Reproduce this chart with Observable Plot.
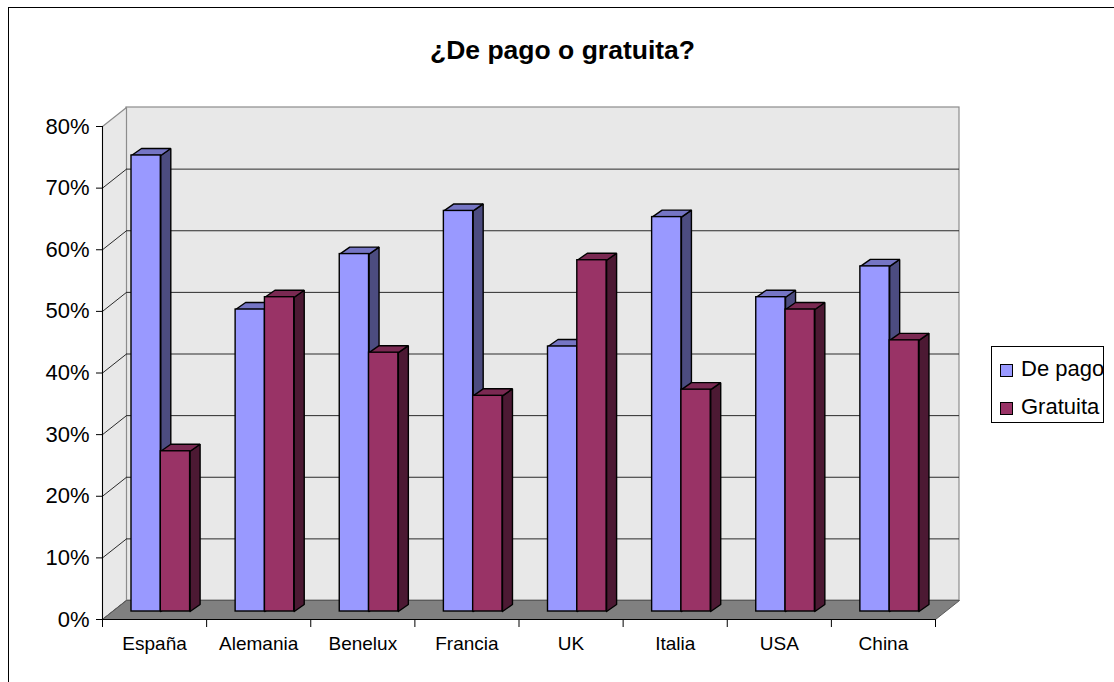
<!DOCTYPE html>
<html>
<head>
<meta charset="utf-8">
<script src="https://cdn.jsdelivr.net/npm/d3@7"></script>
<script src="https://cdn.jsdelivr.net/npm/@observablehq/plot@0.6"></script>
<style>
  html, body { margin: 0; padding: 0; background: #fff; overflow: hidden; }
  body { width: 1114px; height: 682px; position: relative; font-family: "Liberation Sans", Arial, sans-serif; }
  #frame { position: absolute; left: 8px; top: 7px; width: 1120px; height: 690px; border: 1px solid #000; box-sizing: border-box; }
  #chart { position: absolute; left: 0; top: 0; }
  #title { position: absolute; left: 0; width: 1125px; top: 37px; text-align: center; font-weight: bold; font-size: 26.5px; line-height: 26.5px; color: #000; }
  #legend { position: absolute; left: 991px; top: 346px; width: 113px; height: 77px; border: 1px solid #000; box-sizing: border-box; background: #fff; }
  .item { position: absolute; left: 8px; font-size: 22px; line-height: 22px; white-space: nowrap; color: #000; }
  .sw { display: inline-block; width: 13px; height: 13px; border: 1px solid #000; box-sizing: border-box; margin-right: 8px; vertical-align: -1px; }
</style>
</head>
<body>
<div id="frame"></div>
<div id="chart"></div>
<div id="title"></div>
<div id="legend"></div>
<script>
// ---- data ----
const title = "¿De pago o gratuita?";
const categories = ["España", "Alemania", "Benelux", "Francia", "UK", "Italia", "USA", "China"];
const series = ["De pago", "Gratuita"];
const dePago = [74, 49, 58, 65, 43, 64, 51, 56];
const gratuita = [26, 51, 42, 35, 57, 36, 49, 44];
const yTicks = [0, 10, 20, 30, 40, 50, 60, 70, 80];

// ---- styles ----
const faceColors = {
  "De pago":  {front: "#9999FF", top: "#7575C4", side: "#4C4C80"},
  "Gratuita": {front: "#993366", top: "#7A2952", side: "#4C1933"}
};

// ---- layout (pixels) ----
const W = 1114, H = 682;
const mL = 102, mR = 179, mT = 126, mB = 63;
const n = categories.length;
const kx = (W - mL - mR) / n;          // px per category
const ky = (H - mT - mB) / 80;         // px per percent
const wallDx = 24 / kx, wallDy = 19 / ky;   // wall depth in data units
const barDx = 10 / kx, barDy = 7 / ky;      // bar depth in data units
const barOff = 19 / kx, barW = 29.3 / kx;   // bar placement within category
const planeDx = 10, planeDy = -8;           // bar plane offset (px)

const bars = [];
categories.forEach((c, i) => {
  series.forEach((s, j) => {
    const v = (j === 0 ? dePago : gratuita)[i];
    const xl = i + barOff + j * barW, xr = xl + barW;
    bars.push({category: c, series: s, value: v, xl, xr, id: c + "|" + s});
  });
});

function sidePoly(b) {
  return [[b.xr, 0], [b.xr + barDx, barDy], [b.xr + barDx, b.value + barDy], [b.xr, b.value], [b.xr, 0]]
    .map(([x, y]) => ({x, y, id: b.id}));
}
function topPoly(b) {
  return [[b.xl, b.value], [b.xr, b.value], [b.xr + barDx, b.value + barDy], [b.xl + barDx, b.value + barDy], [b.xl, b.value]]
    .map(([x, y]) => ({x, y, id: b.id}));
}

const leftWall = [[0, 0], [0, 80], [wallDx, 80 + wallDy], [wallDx, wallDy], [0, 0]].map(([x, y]) => ({x, y}));
const floor = [[0, 0], [n, 0], [n + wallDx, wallDy], [wallDx, wallDy], [0, 0]].map(([x, y]) => ({x, y}));

const faceMarks = [];
for (const face of ["side", "top"]) {
  for (const s of series) {
    const data = bars.filter(b => b.series === s).flatMap(face === "side" ? sidePoly : topPoly);
    faceMarks.push(Plot.line(data, {x: "x", y: "y", z: "id", fill: faceColors[s][face], stroke: "#000", strokeWidth: 1.4, strokeLinejoin: "miter", dx: planeDx, dy: planeDy}));
  }
}
for (const s of series) {
  faceMarks.push(Plot.rect(bars.filter(b => b.series === s), {x1: "xl", x2: "xr", y1: 0, y2: "value", fill: faceColors[s].front, stroke: "#000", strokeWidth: 1.4, dx: planeDx, dy: planeDy}));
}

const chart = Plot.plot({
  width: W, height: H,
  marginLeft: mL, marginRight: mR, marginTop: mT, marginBottom: mB,
  style: {fontFamily: "'Liberation Sans', Arial, sans-serif", background: "transparent"},
  x: {type: "linear", domain: [0, n], axis: null},
  y: {type: "linear", domain: [0, 80], axis: null},
  marks: [
    // back wall
    Plot.rect([{}], {x1: 0, x2: n, y1: 0, y2: 80, dx: 24, dy: -19, fill: "#E8E8E8", stroke: "#8C8C8C", strokeWidth: 1.2}),
    // left wall
    Plot.line(leftWall, {x: "x", y: "y", fill: "#E8E8E8", stroke: "#8C8C8C", strokeWidth: 1.2}),
    // gridlines on back wall
    Plot.ruleY(yTicks.filter(t => t > 0 && t < 80), {x1: 0, x2: n, dx: 24, dy: -19, stroke: "#2a2a2a", strokeWidth: 1}),
    // gridlines on left wall
    Plot.link(yTicks.filter(t => t < 80), {x1: 0, y1: d => d, x2: wallDx, y2: d => d + wallDy, stroke: "#2a2a2a", strokeWidth: 1}),
    // floor
    Plot.line(floor, {x: "x", y: "y", fill: "#808080", stroke: "#5a5a5a", strokeWidth: 1}),
    // bars
    ...faceMarks,
    // axes
    Plot.ruleX([0], {y1: 0, y2: 80, stroke: "#000", strokeWidth: 1}),
    Plot.ruleY([0], {x1: 0, x2: n, stroke: "#000", strokeWidth: 1}),
    Plot.axisY({ticks: yTicks, tickFormat: d => d + "%", tickSize: 6, tickPadding: 7, fontSize: 22, anchor: "left", label: null}),
    Plot.axisX({ticks: d3.range(0, n + 1), tickFormat: () => "", tickSize: 8, anchor: "bottom", label: null}),
    Plot.text(categories, {x: (d, i) => i + 0.5, y: 0, dy: 24, text: d => d, fontSize: 19, fill: "#000"})
  ]
});
document.getElementById("chart").appendChild(chart);

document.getElementById("title").textContent = title;

const legend = document.getElementById("legend");
series.forEach((s, j) => {
  const item = document.createElement("div");
  item.className = "item";
  item.style.top = (11 + j * 38) + "px";
  const sw = document.createElement("span");
  sw.className = "sw";
  sw.style.background = faceColors[s].front;
  item.appendChild(sw);
  item.appendChild(document.createTextNode(s));
  legend.appendChild(item);
});
</script>
</body>
</html>
